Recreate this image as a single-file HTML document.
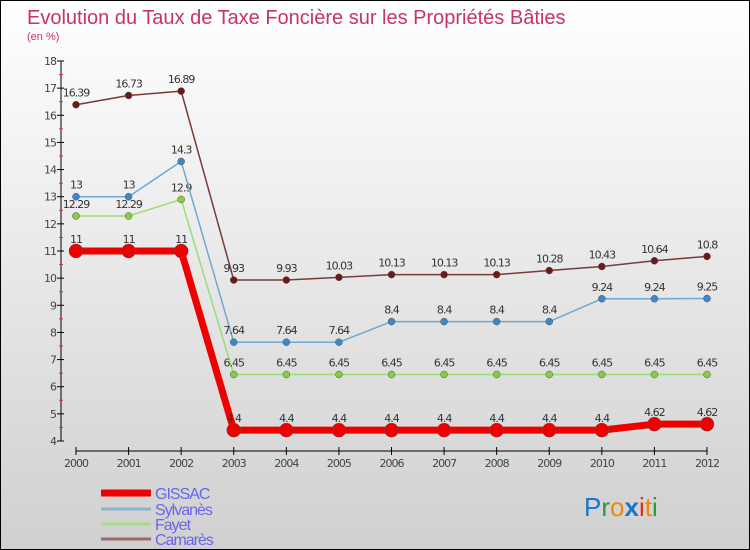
<!DOCTYPE html>
<html><head><meta charset="utf-8"><style>
body{margin:0}
#wrap{width:748px;height:548px;border:1px solid #000;background:linear-gradient(#ffffff,#d0d0d0);position:relative;overflow:hidden;font-family:"DejaVu Sans","Liberation Sans",sans-serif}
</style></head><body>
<div id="wrap">
<svg id="svg" width="748" height="548">
<text x="26" y="23" font-size="20" fill="#c8336a" font-family="Liberation Sans, sans-serif">Evolution du Taux de Taxe Foncière sur les Propriétés Bâties</text>
<text x="26" y="39" font-size="11" fill="#c8336a" font-family="Liberation Sans, sans-serif">(en %)</text>
<g id="axes"></g><g id="series"></g><g id="legend"></g>
<text x="583" y="515" font-family="Liberation Sans, sans-serif" font-size="26"><tspan fill="#1a73d0">P</tspan><tspan fill="#2a9a3a">r</tspan><tspan fill="#f08a00">o</tspan><tspan fill="#1a73d0" font-weight="bold">x</tspan><tspan fill="#e03010">i</tspan><tspan fill="#f08a00">t</tspan><tspan fill="#2a9a3a">i</tspan></text>
</svg></div>
<script>
const years=["2000","2001","2002","2003","2004","2005","2006","2007","2008","2009","2010","2011","2012"];
const yTicks=[4,5,6,7,8,9,10,11,12,13,14,15,16,17,18];
const gissac=[11,11,11,4.4,4.4,4.4,4.4,4.4,4.4,4.4,4.4,4.62,4.62];
const sylvanes=[13,13,14.3,7.64,7.64,7.64,8.4,8.4,8.4,8.4,9.24,9.24,9.25];
const fayet=[12.29,12.29,12.9,6.45,6.45,6.45,6.45,6.45,6.45,6.45,6.45,6.45,6.45];
const camares=[16.39,16.73,16.89,9.93,9.93,10.03,10.13,10.13,10.13,10.28,10.43,10.64,10.8];
const NS="http://www.w3.org/2000/svg";
const X=i=>75+i*(631/12);
const Y=v=>440-(v-4)*(380/14);
function mk(t,a,p){const e=document.createElementNS(NS,t);for(const k in a)e.setAttribute(k,a[k]);p.appendChild(e);return e;}
const ax=document.getElementById('axes');
let yl=mk('line',{x1:60,y1:60,x2:60,y2:440,stroke:'#000'},ax);

yTicks.forEach(v=>{mk('line',{x1:56,x2:63,y1:Y(v),y2:Y(v),stroke:'#000'},ax);
 if(v<18)mk('line',{x1:58,x2:62,y1:Y(v+0.5),y2:Y(v+0.5),stroke:'#e03030'},ax);
 const t=mk('text',{x:55,y:Y(v)+4,'text-anchor':'end','font-size':11,fill:'#444','letter-spacing':'-1'},ax);t.textContent=v;
 });
let xl=mk('line',{x1:75,y1:450,x2:706,y2:450,stroke:'#000'},ax);

years.forEach((y,i)=>{mk('line',{x1:X(i),x2:X(i),y1:446,y2:454,stroke:'#000'},ax);
 const t=mk('text',{x:X(i),y:466,'text-anchor':'middle','font-size':11,fill:'#444','letter-spacing':'-1'},ax);t.textContent=y;
 });
const sg=document.getElementById('series');
function series(d,color,w,r,name,dot){
 const g=mk('g',{},sg);
 mk('polyline',{points:d.map((v,i)=>X(i)+','+Y(v)).join(' '),fill:'none',stroke:color,'stroke-width':w,'stroke-linejoin':'round'},g);
 d.forEach((v,i)=>{const c=mk('circle',{cx:X(i),cy:Y(v),r:r,fill:dot,stroke:'#555','stroke-width':0.5},g);
  
  const t=mk('text',{x:X(i),y:Y(v)-8,'text-anchor':'middle','font-size':11,fill:'#333','letter-spacing':'-1'},g);t.textContent=v;
  });
}
series(fayet,'#99dd77',1.5,3.5,'fayet','#88cc44');
series(sylvanes,'#6fa8d0',1.5,3.5,'sylvanes','#3f88c8');
series(camares,'#7a3a3a',1.5,3.5,'camares','#6a1a1a');
series(gissac,'#ee0000',7,7,'gissac','#ee0000');
const lg=document.getElementById('legend');
[['GISSAC','#ee0000',7,492],['Sylvanès','#8ab4d0',3,508],['Fayet','#a8dc88',3,523],['Camarès','#9a6a6a',3,538]].forEach(e=>{
 const g=mk('g',{},lg);
 mk('line',{x1:100,x2:150,y1:e[3],y2:e[3],stroke:e[1],'stroke-width':e[2]},g);
 const t=mk('text',{x:154,y:e[3]+6,'font-size':16,fill:'#6666ee','letter-spacing':'-1','font-family':'Liberation Sans, sans-serif'},g);t.textContent=e[0];
});
</script></body></html>
